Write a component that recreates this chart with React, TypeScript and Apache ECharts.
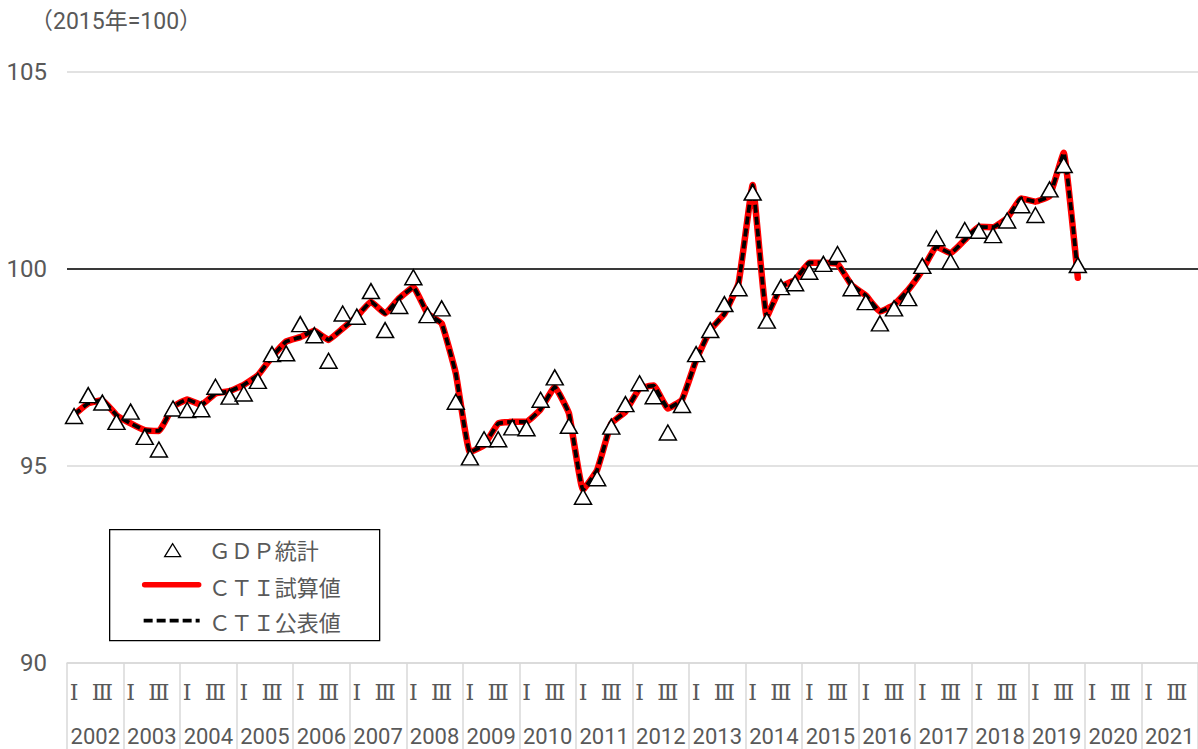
import React, { useEffect, useRef } from "react";
import * as echarts from "echarts";

const years = ["2002","2003","2004","2005","2006","2007","2008","2009","2010","2011","2012","2013","2014","2015","2016","2017","2018","2019","2020","2021"];
const quarterMarks = ["Ⅰ", "", "Ⅲ", ""];

const gdpStats = [
  96.27, 96.80, 96.61, 96.12,
  96.38, 95.74, 95.42, 96.46,
  96.42, 96.44, 97.01, 96.76,
  96.84, 97.16, 97.84, 97.86,
  98.60, 98.32, 97.67, 98.87,
  98.79, 99.44, 98.45, 99.06,
  99.79, 98.83, 99.00, 96.63,
  95.22, 95.68, 95.68, 95.98,
  95.96, 96.68, 97.25, 96.02,
  94.22, 94.69, 96.00, 96.57,
  97.10, 96.77, 95.85, 96.55,
  97.84, 98.45, 99.11, 99.51,
  101.94, 98.69, 99.54, 99.64,
  99.93, 100.13, 100.38, 99.51,
  99.16, 98.62, 99.00, 99.26,
  100.08, 100.78, 100.19, 100.99,
  100.97, 100.86, 101.23, 101.62,
  101.37, 102.02, 102.64, 100.10,
];

const ctiTrial = [
  96.30, 96.59, 96.67, 96.29,
  96.08, 95.91, 95.89, 96.50,
  96.69, 96.55, 96.84, 96.90,
  97.06, 97.30, 97.77, 98.16,
  98.27, 98.43, 98.20, 98.49,
  98.79, 99.17, 98.87, 99.26,
  99.54, 98.87, 98.62, 97.35,
  95.35, 95.53, 96.08, 96.12,
  96.12, 96.44, 97.01, 96.34,
  94.39, 94.90, 96.08, 96.38,
  96.97, 97.04, 96.46, 96.68,
  97.69, 98.45, 98.86, 99.64,
  102.13, 98.79, 99.55, 99.72,
  100.16, 100.16, 100.13, 99.59,
  99.33, 98.92, 99.09, 99.47,
  99.97, 100.57, 100.40, 100.74,
  101.07, 101.06, 101.29, 101.79,
  101.71, 101.85, 102.95, 99.78,
];

const ctiPublished = [
  96.30, 96.59, 96.67, 96.29,
  96.08, 95.91, 95.89, 96.50,
  96.69, 96.55, 96.84, 96.90,
  97.06, 97.30, 97.77, 98.16,
  98.27, 98.43, 98.20, 98.49,
  98.79, 99.17, 98.87, 99.26,
  99.54, 98.87, 98.62, 97.35,
  95.35, 95.53, 96.08, 96.12,
  96.12, 96.44, 97.01, 96.34,
  94.39, 94.90, 96.08, 96.38,
  96.97, 97.04, 96.46, 96.68,
  97.69, 98.45, 98.86, 99.64,
  102.13, 98.79, 99.55, 99.72,
  100.16, 100.16, 100.13, 99.59,
  99.33, 98.92, 99.09, 99.47,
  99.97, 100.57, 100.40, 100.74,
  101.07, 101.06, 101.29, 101.79,
  101.71, 101.85, 102.95, 99.88,
];

const yTicks = { min: 90, max: 105, interval: 5 };
const baseLine = 100;
const unitLabel = "（2015年=100）";
const legendNames = ["ＧＤＰ統計", "ＣＴＩ試算値", "ＣＴＩ公表値"];

const NUM_FONT = "Roboto, sans-serif";
const JP_FONT = "'Noto Sans CJK JP', sans-serif";
const ROMAN_FONT = "'DejaVu Serif', 'Liberation Serif', serif";
const TEXT_COLOR = "#595959";
const GRID_COLOR = "#d9d9d9";

export default function App() {
  const ref = useRef<HTMLDivElement>(null);

  useEffect(() => {
    if (!ref.current) return;
    const chart = echarts.init(ref.current, null, { renderer: "svg" });

    const categories: string[] = [];
    years.forEach((y) => quarterMarks.forEach((_, q) => categories.push(`${y}-${q}`)));

    const option: any = {
      animation: false,
      backgroundColor: "#ffffff",
      grid: { left: 67, right: 0, top: 72, bottom: 86, containLabel: false },
      xAxis: [
        {
          type: "category",
          data: categories,
          boundaryGap: true,
          position: "bottom",
          axisLine: { show: true, lineStyle: { color: GRID_COLOR, width: 1.5 } },
          axisTick: { show: false },
          splitLine: { show: false },
          axisLabel: {
            interval: 0,
            margin: 18,
            fontSize: 22,
            color: TEXT_COLOR,
            fontFamily: ROMAN_FONT,
            formatter: (v: string) => quarterMarks[Number(v.split("-")[1])],
          },
        },
        {
          type: "category",
          data: years,
          boundaryGap: true,
          position: "bottom",
          axisLine: { show: false },
          axisTick: { show: true, length: 90, interval: 0, lineStyle: { color: GRID_COLOR, width: 1.5 } },
          splitLine: { show: false },
          axisLabel: {
            interval: 0,
            margin: 62,
            fontSize: 22,
            color: TEXT_COLOR,
            fontFamily: NUM_FONT,
          },
        },
      ],
      yAxis: {
        type: "value",
        min: yTicks.min,
        max: yTicks.max,
        interval: yTicks.interval,
        axisLine: { show: false },
        axisTick: { show: false },
        splitLine: { show: true, lineStyle: { color: GRID_COLOR, width: 1.5 } },
        axisLabel: { margin: 20, fontSize: 24, color: TEXT_COLOR, fontFamily: NUM_FONT },
      },
      series: [
        {
          name: legendNames[1],
          type: "line",
          data: ctiTrial,
          xAxisIndex: 0,
          smooth: 0.1,
          symbol: "none",
          z: 2,
          lineStyle: { color: "#ff0000", width: 6.5, cap: "round", join: "round" },
          markLine: {
            silent: true,
            symbol: "none",
            label: { show: false },
            lineStyle: { color: "#000000", width: 1.5, type: "solid" },
            data: [{ yAxis: baseLine }],
            z: 1,
          },
        },
        {
          name: legendNames[2],
          type: "line",
          data: ctiPublished,
          xAxisIndex: 0,
          smooth: 0.1,
          symbol: "none",
          z: 3,
          lineStyle: { color: "#000000", width: 3.75, type: [8, 4] },
        },
        {
          name: legendNames[0],
          type: "scatter",
          data: gdpStats,
          xAxisIndex: 0,
          symbol: "triangle",
          symbolSize: [17, 15],
          z: 4,
          itemStyle: { color: "#ffffff", borderColor: "#000000", borderWidth: 1.5, opacity: 1 },
        },
      ],
      graphic: [
        {
          type: "text",
          left: 30,
          top: 10,
          style: { text: unitLabel, fontSize: 23, fill: TEXT_COLOR, fontFamily: NUM_FONT + ", " + JP_FONT },
        },
        {
          type: "group",
          left: 109,
          top: 529,
          children: [
            { type: "rect", shape: { x: 0, y: 0, width: 270, height: 111 }, style: { fill: "#ffffff", stroke: "#000000", lineWidth: 1.3 } },
            { type: "polygon", shape: { points: [[63, 14], [55, 27], [71, 27]] }, style: { fill: "#ffffff", stroke: "#000000", lineWidth: 1.3 } },
            { type: "line", shape: { x1: 35, y1: 55, x2: 89, y2: 55 }, style: { stroke: "#ff0000", lineWidth: 5.5, lineCap: "round" } },
            { type: "line", shape: { x1: 34, y1: 91, x2: 90, y2: 91 }, style: { stroke: "#000000", lineWidth: 3.75, lineDash: [9, 4] } },
            { type: "text", x: 99, y: 19, style: { text: legendNames[0], fontSize: 22, fill: TEXT_COLOR, fontFamily: JP_FONT, verticalAlign: "middle" } },
            { type: "text", x: 99, y: 56, style: { text: legendNames[1], fontSize: 22, fill: TEXT_COLOR, fontFamily: JP_FONT, verticalAlign: "middle" } },
            { type: "text", x: 99, y: 91, style: { text: legendNames[2], fontSize: 22, fill: TEXT_COLOR, fontFamily: JP_FONT, verticalAlign: "middle" } },
          ],
        },
      ],
    };

    chart.setOption(option);
    return () => chart.dispose();
  }, []);

  return (
    <div
      ref={ref}
      style={{ position: "fixed", left: 0, top: 0, width: 1198, height: 749, background: "#ffffff" }}
    />
  );
}
